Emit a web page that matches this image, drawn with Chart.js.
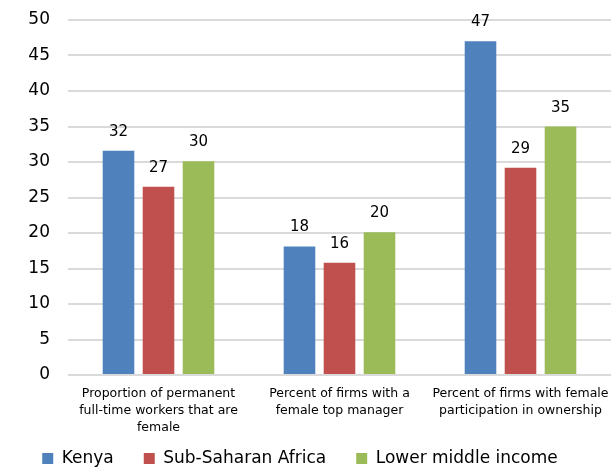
<!DOCTYPE html>
<html>
<head>
<meta charset="utf-8">
<script src="https://cdn.jsdelivr.net/npm/chart.js@4"></script>
<style>
  body { margin: 0; background: #fff; }
  canvas { display: block; }
</style>
</head>
<body>
<canvas id="myChart" width="611" height="471"></canvas>
<script>
const categories = [
    ["Proportion of permanent", "full-time workers that are", "female"],
    ["Percent of firms with a", "female top manager"],
    ["Percent of firms with female", "participation in ownership"]
]
const kenya = [31.6, 18.1, 47.0]
const subSaharan = [26.5, 15.8, 29.2]
const lowerMiddle = [30.1, 20.1, 35.0]
const yTicks = [0, 5, 10, 15, 20, 25, 30, 35, 40, 45, 50]

const FONT = "'DejaVu Sans', sans-serif"

// numbers above each bar
const barLabels = {
    id: 'barLabels',
    afterDatasetsDraw(chart) {
        const ctx = chart.ctx
        ctx.save()
        ctx.font = "15px " + FONT
        ctx.fillStyle = '#000'
        ctx.textAlign = 'center'
        ctx.textBaseline = 'alphabetic'
        chart.data.datasets.forEach((ds, i) => {
            chart.getDatasetMeta(i).data.forEach((bar, j) => {
                ctx.fillText(Math.round(ds.data[j]), bar.x, bar.y - 15)
            })
        })
        ctx.restore()
    }
}

// legend a bit lower/left, and let the x labels use the space down to the bottom
const layoutTweaks = {
    id: 'layoutTweaks',
    afterLayout(chart) {
        chart.legend.top += 6
        chart.legend.bottom += 6
        chart.legend.left -= 7
        chart.legend.right -= 7
        const x = chart.scales.x
        x.bottom = chart.height
        x.height = x.bottom - x.top
    }
}

var ctx = document.getElementById('myChart').getContext('2d');
var chart = new Chart(ctx, {
    type: 'bar',
    data: {
        labels: categories,
        datasets: [
            { label: "Kenya", data: kenya, backgroundColor: '#4F81BD' },
            { label: "Sub-Saharan Africa", data: subSaharan, backgroundColor: '#C0504D' },
            { label: "Lower middle income", data: lowerMiddle, backgroundColor: '#9BBB59' }
        ]
    },
    options: {
        responsive: false,
        animation: false,
        layout: { padding: { top: 20, right: -3, bottom: 0, left: 0 } },
        datasets: {
            bar: { categoryPercentage: 0.663, barPercentage: 0.79 }
        },
        plugins: {
            tooltip: { enabled: false },
            legend: {
                position: 'bottom',
                labels: {
                    boxWidth: 11,
                    boxHeight: 11,
                    padding: 30,
                    color: '#000',
                    font: { family: FONT, size: 17 }
                }
            }
        },
        scales: {
            x: {
                grid: { display: false, drawTicks: false },
                border: { display: false },
                ticks: {
                    padding: 10,
                    maxRotation: 0,
                    autoSkip: false,
                    color: '#000',
                    font: { family: FONT, size: 12.5, lineHeight: 1.38 }
                },
                afterFit(scale) {
                    scale.height = 39
                    scale.paddingLeft = 0
                    scale.paddingRight = 0
                }
            },
            y: {
                min: 0,
                max: 50,
                afterBuildTicks(scale) { scale.ticks = yTicks.map(v => ({ value: v })) },
                grid: { color: '#DADADA', lineWidth: 2, drawTicks: false },
                border: { display: false },
                ticks: {
                    padding: 18,
                    color: '#000',
                    font: { family: FONT, size: 17 }
                },
                afterFit(scale) {
                    scale.width = 68
                    scale.paddingTop = 10
                    scale.paddingBottom = 10
                }
            }
        }
    },
    plugins: [barLabels, layoutTweaks]
});
</script>
</body>
</html>
